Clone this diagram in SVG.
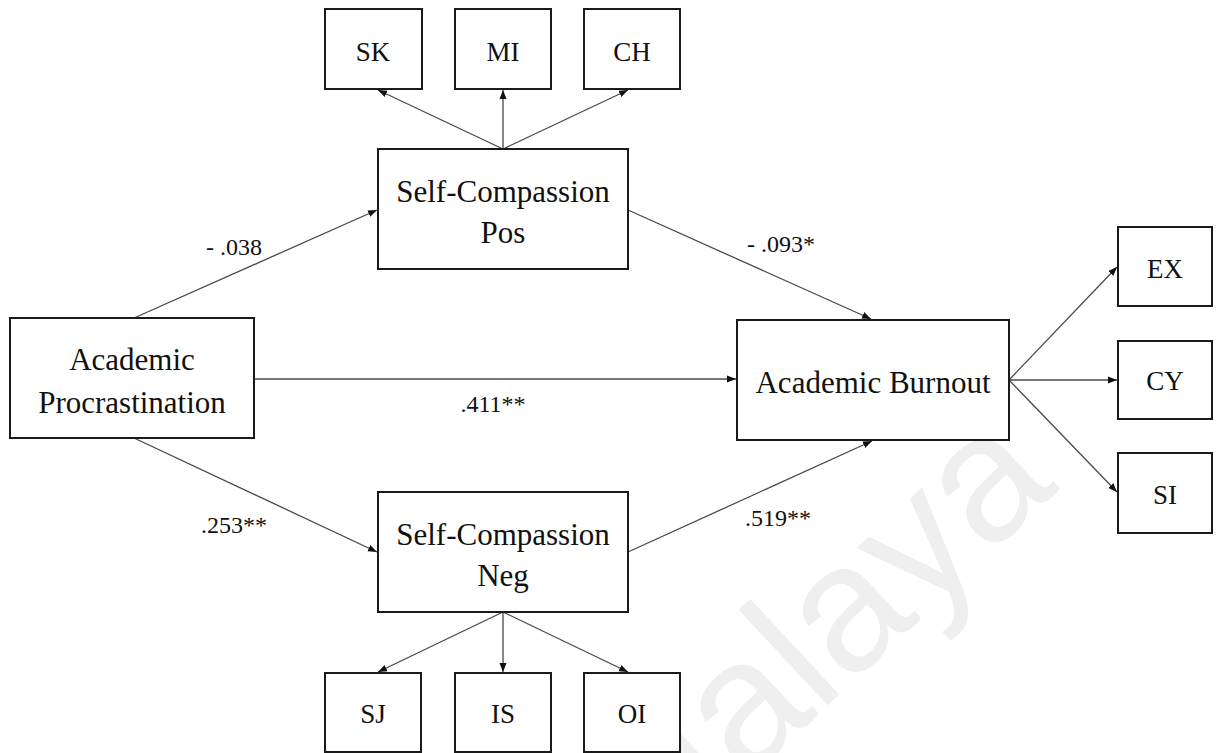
<svg xmlns="http://www.w3.org/2000/svg" width="1220" height="753" viewBox="0 0 1220 753">
  <defs>
    <marker id="arrow" markerUnits="userSpaceOnUse" markerWidth="10" markerHeight="8" refX="9" refY="4" orient="auto">
      <path d="M0,0.5 L9,4 L0,7.5 Z" fill="#111"/>
    </marker>
    <style>
      .box { fill: #fff; stroke: #1a1a1a; stroke-width: 2; }
      .lbl { font-family: "Liberation Serif", "Times New Roman", serif; font-size: 31px; fill: #111; text-anchor: middle; }
      .sm { font-family: "Liberation Serif", "Times New Roman", serif; font-size: 27px; fill: #111; text-anchor: middle; }
      .coef { font-family: "Liberation Serif", "Times New Roman", serif; font-size: 24px; fill: #111; text-anchor: middle; }
      .edge { stroke: #4a4a4a; stroke-width: 1.3; fill: none; marker-end: url(#arrow); }
      .wm { font-family: "Liberation Sans", Arial, sans-serif; font-size: 180px; fill: #efefef; }
    </style>
  </defs>

  <rect width="1220" height="753" fill="#fff"/>

  <!-- faint background watermark -->
  <text class="wm" transform="translate(636,884) rotate(-43)">Malaya</text>

  <g id="connectors">
    <line class="edge" x1="503" y1="149" x2="378" y2="90"/>
    <line class="edge" x1="503" y1="149" x2="503" y2="90"/>
    <line class="edge" x1="503" y1="149" x2="628" y2="90"/>
    <line class="edge" x1="134" y1="318" x2="377" y2="210"/>
    <line class="edge" x1="254" y1="379" x2="736" y2="379"/>
    <line class="edge" x1="628" y1="210" x2="871" y2="319"/>
    <line class="edge" x1="134" y1="438" x2="377" y2="552"/>
    <line class="edge" x1="628" y1="552" x2="872" y2="441"/>
    <line class="edge" x1="1009" y1="380" x2="1117" y2="267"/>
    <line class="edge" x1="1009" y1="380" x2="1117" y2="380"/>
    <line class="edge" x1="1009" y1="380" x2="1117" y2="492"/>
    <line class="edge" x1="503" y1="612" x2="378" y2="672"/>
    <line class="edge" x1="503" y1="612" x2="503" y2="672"/>
    <line class="edge" x1="503" y1="612" x2="628" y2="672"/>
  </g>

  <g id="coefficients">
    <text class="coef" x="234" y="255">- .038</text>
    <text class="coef" x="493" y="412">.411**</text>
    <text class="coef" x="781" y="252">- .093*</text>
    <text class="coef" x="234" y="533">.253**</text>
    <text class="coef" x="778" y="526">.519**</text>
  </g>

  <g id="node-sk">
    <rect class="box" x="325" y="9" width="97" height="80"/>
    <text class="sm" x="373" y="61">SK</text>
  </g>
  <g id="node-mi">
    <rect class="box" x="455" y="9" width="96" height="80"/>
    <text class="sm" x="503" y="61">MI</text>
  </g>
  <g id="node-ch">
    <rect class="box" x="584" y="9" width="96" height="80"/>
    <text class="sm" x="632" y="61">CH</text>
  </g>

  <g id="node-scpos">
    <rect class="box" x="378" y="149" width="250" height="120"/>
    <text class="lbl" x="503" y="202">Self-Compassion</text>
    <text class="lbl" x="503" y="243">Pos</text>
  </g>

  <g id="node-procrastination">
    <rect class="box" x="10" y="318" width="244" height="120"/>
    <text class="lbl" x="132" y="370">Academic</text>
    <text class="lbl" x="132" y="413">Procrastination</text>
  </g>

  <g id="node-burnout">
    <rect class="box" x="737" y="320" width="272" height="120"/>
    <text class="lbl" x="873" y="393">Academic Burnout</text>
  </g>

  <g id="node-ex">
    <rect class="box" x="1118" y="227" width="94" height="79"/>
    <text class="sm" x="1165" y="278">EX</text>
  </g>
  <g id="node-cy">
    <rect class="box" x="1118" y="341" width="94" height="78"/>
    <text class="sm" x="1165" y="390">CY</text>
  </g>
  <g id="node-si">
    <rect class="box" x="1118" y="453" width="94" height="80"/>
    <text class="sm" x="1165" y="504">SI</text>
  </g>

  <g id="node-scneg">
    <rect class="box" x="378" y="492" width="250" height="120"/>
    <text class="lbl" x="503" y="545">Self-Compassion</text>
    <text class="lbl" x="503" y="586">Neg</text>
  </g>

  <g id="node-sj">
    <rect class="box" x="325" y="673" width="96" height="79"/>
    <text class="sm" x="373" y="723">SJ</text>
  </g>
  <g id="node-is">
    <rect class="box" x="455" y="673" width="96" height="79"/>
    <text class="sm" x="503" y="723">IS</text>
  </g>
  <g id="node-oi">
    <rect class="box" x="584" y="673" width="96" height="79"/>
    <text class="sm" x="632" y="723">OI</text>
  </g>
</svg>
